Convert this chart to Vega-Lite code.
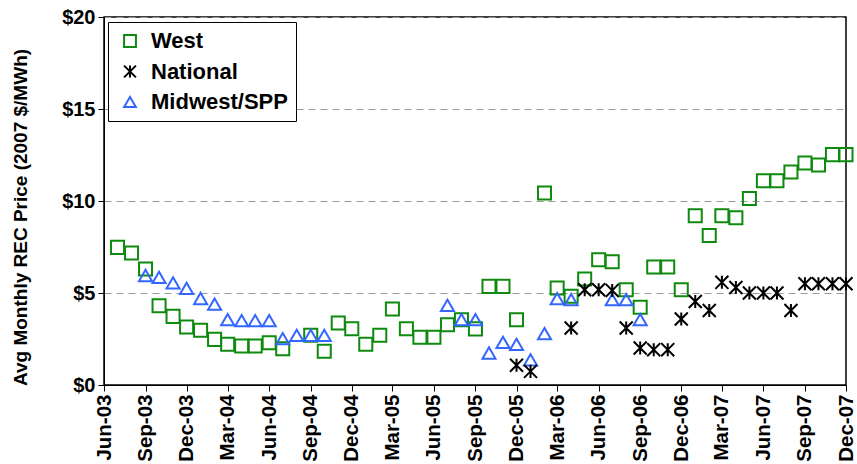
{
  "$schema": "https://vega.github.io/schema/vega-lite/v6.json",
  "width": 742,
  "height": 368,
  "autosize": {"type": "none"},
  "padding": {"left": 104, "top": 17, "right": 11, "bottom": 79},
  "background": "white",
  "config": {
    "font": "Liberation Sans",
    "view": {"stroke": "black", "strokeWidth": 1.5}
  },
  "data": {
    "values": [
      {"date": "2003/07/01", "series": "West", "price": 7.48},
      {"date": "2003/08/01", "series": "West", "price": 7.17},
      {"date": "2003/09/01", "series": "West", "price": 6.30},
      {"date": "2003/10/01", "series": "West", "price": 4.31},
      {"date": "2003/11/01", "series": "West", "price": 3.73},
      {"date": "2003/12/01", "series": "West", "price": 3.15},
      {"date": "2004/01/01", "series": "West", "price": 2.97},
      {"date": "2004/02/01", "series": "West", "price": 2.48},
      {"date": "2004/03/01", "series": "West", "price": 2.21},
      {"date": "2004/04/01", "series": "West", "price": 2.12},
      {"date": "2004/05/01", "series": "West", "price": 2.12},
      {"date": "2004/06/01", "series": "West", "price": 2.30},
      {"date": "2004/07/01", "series": "West", "price": 1.97},
      {"date": "2004/09/01", "series": "West", "price": 2.70},
      {"date": "2004/10/01", "series": "West", "price": 1.83},
      {"date": "2004/11/01", "series": "West", "price": 3.37},
      {"date": "2004/12/01", "series": "West", "price": 3.06},
      {"date": "2005/01/01", "series": "West", "price": 2.21},
      {"date": "2005/02/01", "series": "West", "price": 2.70},
      {"date": "2005/03/01", "series": "West", "price": 4.13},
      {"date": "2005/04/01", "series": "West", "price": 3.06},
      {"date": "2005/05/01", "series": "West", "price": 2.59},
      {"date": "2005/06/01", "series": "West", "price": 2.59},
      {"date": "2005/07/01", "series": "West", "price": 3.28},
      {"date": "2005/08/01", "series": "West", "price": 3.55},
      {"date": "2005/09/01", "series": "West", "price": 3.05},
      {"date": "2005/10/01", "series": "West", "price": 5.36},
      {"date": "2005/11/01", "series": "West", "price": 5.36},
      {"date": "2005/12/01", "series": "West", "price": 3.55},
      {"date": "2006/02/01", "series": "West", "price": 10.43},
      {"date": "2006/03/01", "series": "West", "price": 5.27},
      {"date": "2006/04/01", "series": "West", "price": 4.82},
      {"date": "2006/05/01", "series": "West", "price": 5.76},
      {"date": "2006/06/01", "series": "West", "price": 6.81},
      {"date": "2006/07/01", "series": "West", "price": 6.70},
      {"date": "2006/08/01", "series": "West", "price": 5.18},
      {"date": "2006/09/01", "series": "West", "price": 4.22},
      {"date": "2006/10/01", "series": "West", "price": 6.41},
      {"date": "2006/11/01", "series": "West", "price": 6.41},
      {"date": "2006/12/01", "series": "West", "price": 5.18},
      {"date": "2007/01/01", "series": "West", "price": 9.20},
      {"date": "2007/02/01", "series": "West", "price": 8.13},
      {"date": "2007/03/01", "series": "West", "price": 9.20},
      {"date": "2007/04/01", "series": "West", "price": 9.09},
      {"date": "2007/05/01", "series": "West", "price": 10.14},
      {"date": "2007/06/01", "series": "West", "price": 11.10},
      {"date": "2007/07/01", "series": "West", "price": 11.10},
      {"date": "2007/08/01", "series": "West", "price": 11.58},
      {"date": "2007/09/01", "series": "West", "price": 12.07},
      {"date": "2007/10/01", "series": "West", "price": 11.96},
      {"date": "2007/11/01", "series": "West", "price": 12.52},
      {"date": "2007/12/01", "series": "West", "price": 12.52},
      {"date": "2003/09/01", "series": "Midwest/SPP", "price": 5.95},
      {"date": "2003/10/01", "series": "Midwest/SPP", "price": 5.85},
      {"date": "2003/11/01", "series": "Midwest/SPP", "price": 5.55},
      {"date": "2003/12/01", "series": "Midwest/SPP", "price": 5.25},
      {"date": "2004/01/01", "series": "Midwest/SPP", "price": 4.70},
      {"date": "2004/02/01", "series": "Midwest/SPP", "price": 4.40},
      {"date": "2004/03/01", "series": "Midwest/SPP", "price": 3.55},
      {"date": "2004/04/01", "series": "Midwest/SPP", "price": 3.50},
      {"date": "2004/05/01", "series": "Midwest/SPP", "price": 3.50},
      {"date": "2004/06/01", "series": "Midwest/SPP", "price": 3.50},
      {"date": "2004/07/01", "series": "Midwest/SPP", "price": 2.52},
      {"date": "2004/08/01", "series": "Midwest/SPP", "price": 2.70},
      {"date": "2004/09/01", "series": "Midwest/SPP", "price": 2.70},
      {"date": "2004/10/01", "series": "Midwest/SPP", "price": 2.70},
      {"date": "2005/07/01", "series": "Midwest/SPP", "price": 4.33},
      {"date": "2005/08/01", "series": "Midwest/SPP", "price": 3.55},
      {"date": "2005/09/01", "series": "Midwest/SPP", "price": 3.55},
      {"date": "2005/10/01", "series": "Midwest/SPP", "price": 1.74},
      {"date": "2005/11/01", "series": "Midwest/SPP", "price": 2.32},
      {"date": "2005/12/01", "series": "Midwest/SPP", "price": 2.21},
      {"date": "2006/01/01", "series": "Midwest/SPP", "price": 1.37},
      {"date": "2006/02/01", "series": "Midwest/SPP", "price": 2.79},
      {"date": "2006/03/01", "series": "Midwest/SPP", "price": 4.69},
      {"date": "2006/04/01", "series": "Midwest/SPP", "price": 4.64},
      {"date": "2006/07/01", "series": "Midwest/SPP", "price": 4.64},
      {"date": "2006/08/01", "series": "Midwest/SPP", "price": 4.64},
      {"date": "2006/09/01", "series": "Midwest/SPP", "price": 3.55},
      {"date": "2005/12/01", "series": "National", "price": 1.07},
      {"date": "2006/01/01", "series": "National", "price": 0.74},
      {"date": "2006/04/01", "series": "National", "price": 3.10},
      {"date": "2006/05/01", "series": "National", "price": 5.18},
      {"date": "2006/06/01", "series": "National", "price": 5.18},
      {"date": "2006/07/01", "series": "National", "price": 5.14},
      {"date": "2006/08/01", "series": "National", "price": 3.10},
      {"date": "2006/09/01", "series": "National", "price": 2.01},
      {"date": "2006/10/01", "series": "National", "price": 1.92},
      {"date": "2006/11/01", "series": "National", "price": 1.92},
      {"date": "2006/12/01", "series": "National", "price": 3.59},
      {"date": "2007/01/01", "series": "National", "price": 4.54},
      {"date": "2007/02/01", "series": "National", "price": 4.05},
      {"date": "2007/03/01", "series": "National", "price": 5.58},
      {"date": "2007/04/01", "series": "National", "price": 5.30},
      {"date": "2007/05/01", "series": "National", "price": 5.00},
      {"date": "2007/06/01", "series": "National", "price": 5.00},
      {"date": "2007/07/01", "series": "National", "price": 5.00},
      {"date": "2007/08/01", "series": "National", "price": 4.05},
      {"date": "2007/09/01", "series": "National", "price": 5.50},
      {"date": "2007/10/01", "series": "National", "price": 5.50},
      {"date": "2007/11/01", "series": "National", "price": 5.50},
      {"date": "2007/12/01", "series": "National", "price": 5.50}
    ]
  },
  "mark": {"type": "point", "filled": false, "strokeWidth": 2, "size": 170, "opacity": 1, "clip": false},
  "encoding": {
    "x": {
      "field": "date",
      "type": "temporal",
      "scale": {
        "domain": [{"year": 2003, "month": 6, "date": 1}, {"year": 2007, "month": 12, "date": 1}],
        "nice": false
      },
      "axis": {
        "title": null,
        "format": "%b-%y",
        "labelAngle": -90,
        "values": [
          {"year": 2003, "month": 6, "date": 1}, {"year": 2003, "month": 9, "date": 1}, {"year": 2003, "month": 12, "date": 1},
          {"year": 2004, "month": 3, "date": 1}, {"year": 2004, "month": 6, "date": 1}, {"year": 2004, "month": 9, "date": 1}, {"year": 2004, "month": 12, "date": 1},
          {"year": 2005, "month": 3, "date": 1}, {"year": 2005, "month": 6, "date": 1}, {"year": 2005, "month": 9, "date": 1}, {"year": 2005, "month": 12, "date": 1},
          {"year": 2006, "month": 3, "date": 1}, {"year": 2006, "month": 6, "date": 1}, {"year": 2006, "month": 9, "date": 1}, {"year": 2006, "month": 12, "date": 1},
          {"year": 2007, "month": 3, "date": 1}, {"year": 2007, "month": 6, "date": 1}, {"year": 2007, "month": 9, "date": 1}, {"year": 2007, "month": 12, "date": 1}
        ],
        "labelFontSize": 20.5,
        "labelFontWeight": "bold",
        "labelColor": "black",
        "labelPadding": 3,
        "labelOverlap": false,
        "labelFlush": false,
        "labelBound": false,
        "tickColor": "black",
        "tickSize": 6,
        "domainColor": "black",
        "grid": false
      }
    },
    "y": {
      "field": "price",
      "type": "quantitative",
      "scale": {"domain": [0, 20], "nice": false},
      "axis": {
        "values": [0, 5, 10, 15, 20],
        "labelExpr": "'$' + datum.value",
        "title": "Avg Monthly REC Price (2007 $/MWh)",
        "titleFontSize": 19,
        "titleFontWeight": "bold",
        "titleColor": "black",
        "titlePadding": 31,
        "titleY": 200,
        "labelFontSize": 20,
        "labelFontWeight": "bold",
        "labelColor": "black",
        "labelPadding": 3,
        "labelFlush": false,
        "tickColor": "black",
        "tickSize": 6,
        "domainColor": "black",
        "grid": true,
        "gridDash": [7, 5],
        "gridColor": "#999999",
        "gridWidth": 1
      }
    },
    "color": {
      "field": "series",
      "type": "nominal",
      "scale": {"domain": ["West", "National", "Midwest/SPP"], "range": ["#0e8a0e", "#000000", "#3366ff"]},
      "legend": {
        "title": null,
        "orient": "none",
        "legendX": 4,
        "legendY": 5,
        "padding": 8,
        "strokeColor": "black",
        "fillColor": "white",
        "labelFontSize": 22,
        "labelFontWeight": "bold",
        "labelColor": "black",
        "labelOffset": 10,
        "symbolOffset": 3,
        "symbolSize": 140,
        "symbolStrokeWidth": 2,
        "rowPadding": 8.5
      }
    },
    "shape": {
      "field": "series",
      "type": "nominal",
      "scale": {"domain": ["West", "National", "Midwest/SPP"], "range": ["square", "M-1,-1L1,1M-1,1L1,-1M0,-1L0,1", "triangle-up"]},
      "legend": {
        "title": null,
        "orient": "none",
        "legendX": 4,
        "legendY": 5,
        "padding": 8,
        "strokeColor": "black",
        "fillColor": "white",
        "labelFontSize": 22,
        "labelFontWeight": "bold",
        "labelColor": "black",
        "labelOffset": 10,
        "symbolOffset": 3,
        "symbolSize": 140,
        "symbolStrokeWidth": 2,
        "rowPadding": 8.5
      }
    }
  }
}
